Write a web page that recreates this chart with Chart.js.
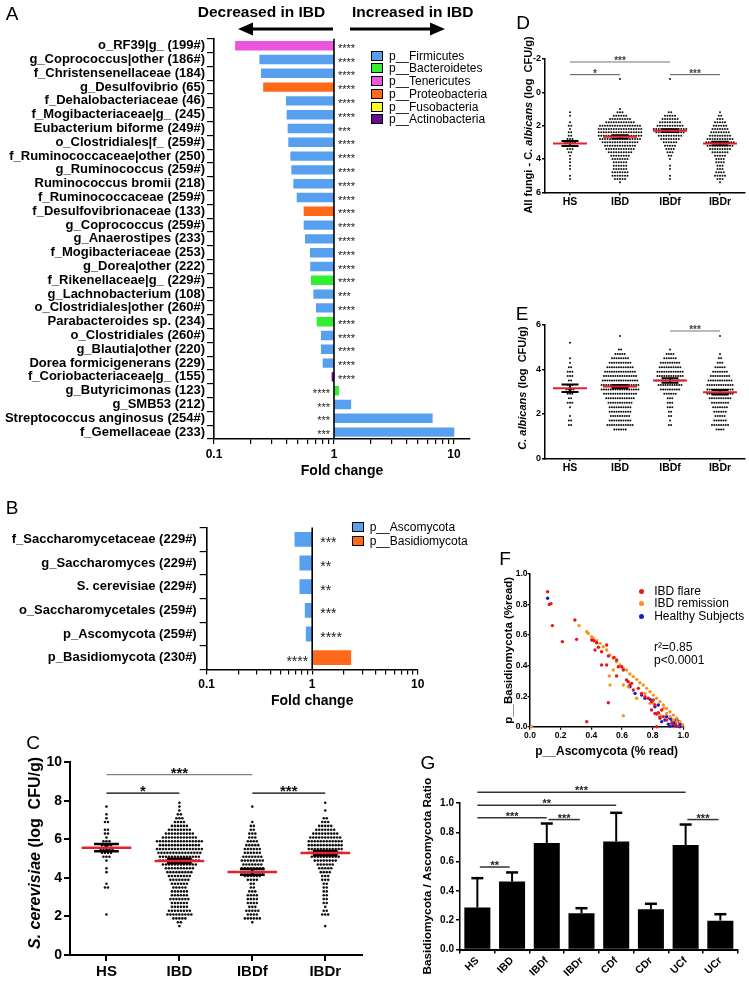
<!DOCTYPE html>
<html>
<head>
<meta charset="utf-8">
<title>Fungal and bacterial changes in IBD</title>
<script src="https://cdn.jsdelivr.net/npm/chart.js@4.4.1/dist/chart.umd.min.js"></script>
<style>
  body { margin: 0; background: #fff; }
  #fig { position: relative; width: 749px; height: 983px; overflow: hidden;
         font-family: Arial, "Liberation Sans", sans-serif; color: #000; }
  #fig canvas { position: absolute; }
  .t { position: absolute; white-space: nowrap; line-height: 1; transform: translate(-50%, -50%); }
  .letter { font-size: 19px; }
  .head { font-size: 15.5px; font-weight: bold; }
  .vt { font-weight: bold; transform: translate(-50%, -50%) rotate(-90deg); }
  .row { position: absolute; white-space: nowrap; line-height: 1; font-size: 12px; transform: translateY(-50%); }
  .sw { display: inline-block; box-sizing: border-box; width: 12px; height: 10px; border: 1px solid #000; vertical-align: -1px; margin-right: 6px; }
  .dot { display: inline-block; width: 5px; height: 5px; border-radius: 50%; vertical-align: 1px; margin-right: 10px; }
</style>
</head>
<body>
<div id="fig">
  <canvas id="chartA" width="480" height="480" style="left:0;top:0"></canvas>
  <canvas id="chartB" width="480" height="220" style="left:0;top:490px"></canvas>
  <canvas id="chartC" width="380" height="253" style="left:0;top:730px"></canvas>
  <canvas id="chartD" width="269" height="215" style="left:480px;top:0"></canvas>
  <canvas id="chartE" width="269" height="180" style="left:480px;top:300px"></canvas>
  <canvas id="chartF" width="269" height="205" style="left:480px;top:555px"></canvas>
  <canvas id="chartG" width="349" height="223" style="left:400px;top:760px"></canvas>

  <div class="t letter" style="left:12px;top:13px">A</div>
  <div class="t letter" style="left:12px;top:507px">B</div>
  <div class="t letter" style="left:33px;top:742px">C</div>
  <div class="t letter" style="left:523px;top:22px">D</div>
  <div class="t letter" style="left:522px;top:313px">E</div>
  <div class="t letter" style="left:505px;top:558px">F</div>
  <div class="t letter" style="left:428px;top:762px">G</div>

  <div class="t head" style="left:261.5px;top:12px">Decreased in IBD</div>
  <div class="t head" style="left:352px;top:12px;transform:translate(0,-50%)">Increased in IBD</div>

  <div class="t vt" style="left:35px;top:853px;font-size:16px"><i>S. cerevisiae</i> (log&nbsp; CFU/g)</div>
  <div class="t vt" style="left:528px;top:125px;font-size:11px">All fungi - C. <i>albicans</i> (log&nbsp; CFU/g)</div>
  <div class="t vt" style="left:521.7px;top:388px;font-size:11px"><i>C. albicans</i> (log&nbsp; CFU/g)</div>

  <div id="legA"></div>
  <div id="legB"></div>
  <div id="legF"></div>
  <div class="row" style="left:654px;top:647px;font-size:12px">r²=0.85</div>
  <div class="row" style="left:654px;top:660px;font-size:12px">p&lt;0.0001</div>
</div>

<script>
  // ---------- data: panel A (bacteria, fold change IBD vs HS) ----------
  const taxaA = [
    'o_RF39|g_ (199#)', 'g_Coprococcus|other (186#)', 'f_Christensenellaceae (184)', 'g_Desulfovibrio (65)',
    'f_Dehalobacteriaceae (46)', 'f_Mogibacteriaceae|g_ (245)', 'Eubacterium biforme (249#)', 'o_Clostridiales|f_ (259#)',
    'f_Ruminococcaceae|other (250)', 'g_Ruminococcus (259#)', 'Ruminococcus bromii (218)', 'f_Ruminococcaceae (259#)',
    'f_Desulfovibrionaceae (133)', 'g_Coprococcus (259#)', 'g_Anaerostipes (233)', 'f_Mogibacteriaceae (253)',
    'g_Dorea|other (222)', 'f_Rikenellaceae|g_ (229#)', 'g_Lachnobacterium (108)', 'o_Clostridiales|other (260#)',
    'Parabacteroides sp. (234)', 'o_Clostridiales (260#)', 'g_Blautia|other (220)', 'Dorea formicigenerans (229)',
    'f_Coriobacteriaceae|g_ (155)', 'g_Butyricimonas (123)', 'g_SMB53 (212)', 'Streptococcus anginosus (254#)',
    'f_Gemellaceae (233)'
  ];
  const foldA = [0.150, 0.239, 0.246, 0.257, 0.398, 0.403, 0.411, 0.416, 0.433, 0.441, 0.458, 0.489, 0.559, 0.559,
    0.573, 0.631, 0.634, 0.643, 0.673, 0.708, 0.718, 0.779, 0.779, 0.805, 0.956, 1.10, 1.39, 6.64, 10.06];
  const phylumA = ['Tenericutes', 'Firmicutes', 'Firmicutes', 'Proteobacteria', 'Firmicutes', 'Firmicutes', 'Firmicutes',
    'Firmicutes', 'Firmicutes', 'Firmicutes', 'Firmicutes', 'Firmicutes', 'Proteobacteria', 'Firmicutes', 'Firmicutes',
    'Firmicutes', 'Firmicutes', 'Bacteroidetes', 'Firmicutes', 'Firmicutes', 'Bacteroidetes', 'Firmicutes', 'Firmicutes',
    'Firmicutes', 'Actinobacteria', 'Bacteroidetes', 'Firmicutes', 'Firmicutes', 'Firmicutes'];
  const starsA = ['****', '****', '****', '****', '****', '****', '***', '****', '****', '****', '****', '****', '****',
    '****', '****', '****', '****', '****', '***', '****', '****', '****', '****', '****', '****', '****', '***', '***', '***'];
  const phylaA = ['Firmicutes', 'Bacteroidetes', 'Tenericutes', 'Proteobacteria', 'Fusobacteria', 'Actinobacteria'];

  // ---------- data: panel B (fungi, fold change) ----------
  const taxaB = ['f_Saccharomycetaceae (229#)', 'g_Saccharomyces (229#)', 'S. cerevisiae (229#)',
    'o_Saccharomycetales (259#)', 'p_Ascomycota (259#)', 'p_Basidiomycota (230#)'];
  const foldB = [0.68, 0.758, 0.758, 0.851, 0.87, 2.34];
  const phylumB = ['Ascomycota', 'Ascomycota', 'Ascomycota', 'Ascomycota', 'Ascomycota', 'Basidiomycota'];
  const starsB = ['***', '**', '**', '***', '****', '****'];
  const phylaB = ['Ascomycota', 'Basidiomycota'];

  // ---------- data: panels C, D, E (dot plots, [value, number of dots]) ----------
  const groups = ['HS', 'IBD', 'IBDf', 'IBDr'];

  const hsC = [[7.7,1],[7.3,1],[7.1,1],[6.9,2],[6.5,2],[6.3,2],[6.1,1],[5.9,3],[5.7,4],[5.5,5],[5.3,4],[5.1,3],
    [4.9,1],[4.5,1],[4.3,1],[3.7,1],[3.5,2],[2.1,1]];
  const ibdC = [[7.9,1],[7.7,1],[7.5,1],[7.3,2],[7.1,3],[6.9,4],[6.7,6],[6.5,8],[6.3,10],[6.1,12],[5.9,16],[5.7,14],
    [5.5,16],[5.3,15],[5.1,14],[4.9,14],[4.7,12],[4.5,10],[4.3,9],[4.1,8],[3.9,7],[3.7,6],[3.5,5],[3.3,6],[3.1,6],
    [2.9,7],[2.7,6],[2.5,6],[2.3,8],[2.1,9],[1.9,5],[1.7,2],[1.5,1]];
  const ibdfC = [[7.7,1],[6.9,1],[6.7,2],[6.5,2],[6.3,3],[6.1,3],[5.9,4],[5.7,5],[5.5,6],[5.3,6],[5.1,7],[4.9,8],
    [4.7,7],[4.5,8],[4.3,8],[4.1,6],[3.9,4],[3.7,2],[3.5,2],[3.3,3],[3.1,4],[2.9,4],[2.7,4],[2.5,3],[2.3,5],[2.1,4],
    [1.9,6],[1.7,1]];
  const ibdrC = [[7.9,1],[7.5,1],[7.1,2],[6.9,3],[6.7,5],[6.5,7],[6.3,9],[6.1,11],[5.9,12],[5.7,12],[5.5,12],[5.3,12],
    [5.1,10],[4.9,8],[4.7,6],[4.5,5],[4.3,4],[4.1,3],[3.9,3],[3.7,2],[3.5,2],[3.3,2],[3.1,2],[2.9,2],[2.7,2],[2.5,1],
    [2.3,2],[2.1,3],[1.5,1]];
  const meansC = [5.57, 4.88, 4.31, 5.29];
  const semsC = [0.19, 0.11, 0.15, 0.11];
  const sigC = [[0, 2, 9.36, '***'], [0, 1, 8.4, '*'], [2, 3, 8.4, '***']];

  const hsD = [[1.2,1],[1.4,1],[1.8,1],[2.0,2],[2.2,1],[2.4,2],[2.6,2],[2.8,3],[3.0,5],[3.2,4],[3.4,3],[3.6,2],
    [3.8,1],[4.0,1],[4.2,1],[4.4,1],[4.6,1],[5.0,1],[5.2,1]];
  const ibdD = [[-0.8,1],[1.0,1],[1.2,3],[1.4,6],[1.6,9],[1.8,12],[2.0,17],[2.2,18],[2.4,18],[2.6,18],[2.8,17],
    [3.0,15],[3.2,13],[3.4,12],[3.6,10],[3.8,8],[4.0,7],[4.2,6],[4.4,6],[4.6,6],[4.8,7],[5.0,7],[5.2,5],[5.4,1]];
  const ibdfD = [[-0.8,1],[1.2,2],[1.4,5],[1.6,7],[1.8,9],[2.0,11],[2.2,14],[2.4,12],[2.6,10],[2.8,8],[3.0,6],
    [3.2,5],[3.4,4],[3.6,3],[3.8,2],[4.0,1],[4.4,1],[4.6,1],[5.0,1],[5.2,1]];
  const ibdrD = [[1.2,1],[1.4,2],[1.6,3],[1.8,5],[2.0,6],[2.2,7],[2.4,8],[2.6,9],[2.8,11],[3.0,12],[3.2,11],
    [3.4,9],[3.6,7],[3.8,5],[4.0,4],[4.2,4],[4.4,3],[4.6,3],[4.8,4],[5.0,5],[5.2,3],[5.4,1]];
  const meansD = [3.07, 2.67, 2.3, 3.07];
  const semsD = [0.15, 0.1, 0.08, 0.1];
  const sigD = [[0, 2, -1.82, '***'], [0, 1, -1.06, '*'], [2, 3, -1.06, '***']];

  const hsE = [[5.2,1],[4.5,1],[4.3,1],[4.1,2],[3.9,3],[3.7,3],[3.5,2],[3.3,3],[3.1,4],[2.9,3],[2.7,2],[2.5,3],
    [2.3,1],[1.9,1],[1.7,2],[1.5,2]];
  const ibdE = [[5.5,1],[4.9,2],[4.7,5],[4.5,8],[4.3,10],[4.1,12],[3.9,14],[3.7,15],[3.5,16],[3.3,17],[3.1,17],
    [2.9,15],[2.7,13],[2.5,11],[2.3,10],[2.1,10],[1.9,9],[1.7,10],[1.5,12],[1.3,6]];
  const ibdfE = [[4.9,1],[4.7,4],[4.5,6],[4.3,9],[4.1,10],[3.9,12],[3.7,12],[3.5,13],[3.3,11],[3.1,9],[2.9,6],
    [2.7,3],[2.5,3],[2.3,3],[2.1,2],[1.9,2],[1.7,1],[1.5,2]];
  const ibdrE = [[5.5,1],[4.7,1],[4.5,2],[4.3,3],[4.1,5],[3.9,7],[3.7,9],[3.5,11],[3.3,12],[3.1,12],[2.9,12],
    [2.7,10],[2.5,8],[2.3,7],[2.1,6],[1.9,5],[1.7,6],[1.5,8],[1.3,4]];
  const meansE = [3.15, 3.23, 3.5, 2.97];
  const semsE = [0.17, 0.07, 0.1, 0.1];
  const sigE = [[2, 3, 5.73, '***']];

  // ---------- data: panel F (Ascomycota vs Basidiomycota, fraction of reads) ----------
  const flareF = [[0.115,0.884],[0.126,0.801],[0.137,0.806],[0.146,0.662],[0.211,0.557],[0.293,0.699],[0.304,0.572],
    [0.402,0.568],[0.417,0.563],[0.435,0.55],[0.424,0.502],[0.446,0.52],[0.467,0.491],[0.5,0.535],[0.511,0.463],
    [0.467,0.404],[0.5,0.404],[0.511,0.157],[0.37,0.033],[0.548,0.454],[0.565,0.437],[0.576,0.393],[0.565,0.332],
    [0.598,0.393],[0.609,0.371],[0.63,0.306],[0.641,0.295],[0.652,0.273],[0.663,0.284],[0.674,0.24],[0.707,0.251],
    [0.728,0.218],[0.75,0.197],[0.772,0.186],[0.793,0.164],[0.804,0.175],[0.815,0.142],[0.793,0.109],[0.815,0.087],
    [0.826,0.083],[0.837,0.092],[0.859,0.109],[0.848,0.055],[0.87,0.066],[0.891,0.044],[0.924,0.022],[0.946,0.011],
    [0.967,0.004],[0.826,0.0]];
  const remissionF = [[0.32,0.662],[0.37,0.622],[0.38,0.611],[0.402,0.59],[0.413,0.579],[0.435,0.563],[0.457,0.546],
    [0.478,0.524],[0.5,0.502],[0.522,0.469],[0.543,0.448],[0.565,0.426],[0.587,0.404],[0.609,0.382],[0.63,0.371],
    [0.652,0.345],[0.674,0.328],[0.696,0.31],[0.717,0.288],[0.739,0.273],[0.761,0.251],[0.783,0.229],[0.804,0.207],
    [0.826,0.186],[0.848,0.164],[0.87,0.142],[0.891,0.12],[0.913,0.098],[0.935,0.076],[0.957,0.055],[0.978,0.033],
    [0.996,0.011],[0.517,0.332],[0.609,0.273],[0.641,0.262],[0.696,0.186],[0.75,0.218],[0.783,0.153],[0.87,0.12],
    [0.913,0.066],[0.957,0.033],[0.848,0.076],[0.609,0.072],[0.011,0.0],[0.543,0.371],[0.522,0.273],[0.804,0.153],
    [0.891,0.087],[0.935,0.044]];
  const healthyF = [[0.115,0.841],[0.652,0.262],[0.685,0.218],[0.728,0.207],[0.75,0.186],[0.783,0.179],[0.815,0.131],
    [0.837,0.142],[0.848,0.066],[0.859,0.033],[0.891,0.066],[0.913,0.055],[0.924,0.044],[0.935,0.033],[0.946,0.022],
    [0.957,0.048],[0.967,0.033],[0.978,0.017],[0.989,0.011],[0.935,0.011],[0.957,0.004],[0.913,0.004],[0.946,0.039],
    [0.978,0.0],[0.902,0.017],[0.88,0.044]];
  const seriesF = ['IBD flare', 'IBD remission', 'Healthy Subjects'];

  // ---------- data: panel G (Basidiomycota / Ascomycota ratio, mean + SEM) ----------
  const catsG = ['HS', 'IBD', 'IBDf', 'IBDr', 'CDf', 'CDr', 'UCf', 'UCr'];
  const ratioG = [0.286, 0.464, 0.727, 0.248, 0.738, 0.275, 0.713, 0.197];
  const errTopG = [0.487, 0.526, 0.86, 0.282, 0.933, 0.312, 0.853, 0.241];
  const sigG = [[0, 6, 1.074, '***'], [0, 4, 0.985, '**'], [0, 2, 0.899, '***'], [2.05, 2.95, 0.887, '***'],
    [6.05, 6.95, 0.887, '***'], [0.07, 0.93, 0.563, '**']];

  // ---------- styles ----------
  const phylumColors = {
    Firmicutes: '#57A0F0', Bacteroidetes: '#33EE33', Tenericutes: '#EE55DD', Proteobacteria: '#FF6A1A',
    Fusobacteria: '#FFFF22', Actinobacteria: '#6A0A99', Ascomycota: '#57A0F0', Basidiomycota: '#FF6A1A'
  };
  const colorsF = ['#E8161B', '#F7941E', '#1A1ACC'];
  const MEAN_RED = '#E8202A';

  Chart.defaults.font.family = 'Arial, "Liberation Sans", sans-serif';
  Chart.defaults.color = '#000';
  Chart.defaults.animation = false;
  Chart.defaults.responsive = false;
  Chart.defaults.devicePixelRatio = 1;
  Chart.defaults.plugins.legend.display = false;
  Chart.defaults.plugins.tooltip.enabled = false;

  const bold = size => ({ size, weight: 'bold' });
  const fixW = w => s => { s.width = w; };
  const fixH = h => s => { s.height = h; };

  function logTicks(scale) {
    const t = [];
    [0.1, 1].forEach(d => { for (let k = 1; k <= 9; k++) t.push({ value: +(k * d).toFixed(1) }); });
    t.push({ value: 10 });
    scale.ticks = t.filter(o => o.value <= scale.max + 1e-9);
  }
  const logLabel = v => ([0.1, 1, 10].includes(v) ? String(v) : '');

  function swarm(bins, gi, gap) {
    const pts = [];
    bins.forEach(([v, n]) => {
      for (let k = 0; k < n; k++) pts.push({ x: gi + (k - (n - 1) / 2) * gap, y: v });
    });
    return pts;
  }

  function drawSig(ctx, x, y, list, st) {
    list.forEach(([a, b, lvl, txt], k) => {
      const py = y.getPixelForValue(lvl);
      const x0 = x.getPixelForValue(a), x1 = x.getPixelForValue(b);
      ctx.strokeStyle = st.lineColors[k] || st.lineColors[st.lineColors.length - 1];
      ctx.lineWidth = st.lineWidth;
      ctx.beginPath(); ctx.moveTo(x0, py); ctx.lineTo(x1, py); ctx.stroke();
      ctx.font = st.starFont; ctx.fillStyle = st.starColor;
      ctx.textAlign = 'center'; ctx.textBaseline = 'alphabetic';
      ctx.fillText(txt, (x0 + x1) / 2, py + st.starDy);
    });
  }

  // vertical line at fold change 1 + significance stars beside each bar
  function foldPlugin(fold, stars, st) {
    return {
      id: 'foldLine',
      afterDatasetsDraw(chart) {
        const { ctx, chartArea, scales: { x, y } } = chart;
        const x1 = x.getPixelForValue(1);
        ctx.save();
        ctx.strokeStyle = '#000'; ctx.lineWidth = 1.6;
        ctx.beginPath(); ctx.moveTo(x1, chartArea.top); ctx.lineTo(x1, chartArea.bottom); ctx.stroke();
        ctx.font = st.font; ctx.fillStyle = '#222'; ctx.textBaseline = 'alphabetic';
        fold.forEach((v, i) => {
          const py = y.getPixelForValue(i) + st.dy;
          if (v < 1) { ctx.textAlign = 'left'; ctx.fillText(stars[i], x1 + st.gapR, py); }
          else { ctx.textAlign = 'right'; ctx.fillText(stars[i], x1 - st.gapL, py); }
        });
        if (st.arrows) {
          const ay = 29;
          ctx.lineWidth = 3.2; ctx.fillStyle = '#000';
          const arrow = (from, to) => {
            const dir = Math.sign(to - from);
            ctx.beginPath(); ctx.moveTo(from, ay); ctx.lineTo(to - dir * 10, ay); ctx.stroke();
            ctx.beginPath(); ctx.moveTo(to, ay); ctx.lineTo(to - dir * 15, ay - 6.5); ctx.lineTo(to - dir * 15, ay + 6.5);
            ctx.closePath(); ctx.fill();
          };
          arrow(x1 - 1, x1 - 96);
          arrow(x1 + 16, x1 + 111);
        }
        ctx.restore();
      }
    };
  }

  function meanSemPlugin(means, sems, sig, st) {
    return {
      id: 'meanSem',
      afterDatasetsDraw(chart) {
        const { ctx, scales: { x, y } } = chart;
        ctx.save();
        means.forEach((m, i) => {
          const cx = x.getPixelForValue(i);
          const sw = x.getPixelForValue(i + st.semHalf) - cx;
          const mw = x.getPixelForValue(i + st.meanHalf) - cx;
          const lo = y.getPixelForValue(m - sems[i]), hi = y.getPixelForValue(m + sems[i]);
          ctx.strokeStyle = '#000'; ctx.lineWidth = st.semWidth;
          ctx.beginPath();
          ctx.moveTo(cx - sw, lo); ctx.lineTo(cx + sw, lo);
          ctx.moveTo(cx - sw, hi); ctx.lineTo(cx + sw, hi);
          ctx.moveTo(cx, lo); ctx.lineTo(cx, hi);
          ctx.stroke();
          const my = y.getPixelForValue(m);
          ctx.strokeStyle = MEAN_RED; ctx.lineWidth = st.meanWidth;
          ctx.beginPath(); ctx.moveTo(cx - mw, my); ctx.lineTo(cx + mw, my); ctx.stroke();
        });
        drawSig(ctx, x, y, sig, st);
        ctx.restore();
      }
    };
  }

  function errorPlugin(vals, tops, sig, st) {
    return {
      id: 'errG',
      afterDatasetsDraw(chart) {
        const { ctx, scales: { x, y } } = chart;
        ctx.save();
        ctx.strokeStyle = '#000';
        vals.forEach((v, i) => {
          const cx = x.getPixelForValue(i), y0 = y.getPixelForValue(v), y1 = y.getPixelForValue(tops[i]);
          ctx.lineWidth = 2;
          ctx.beginPath(); ctx.moveTo(cx, y0); ctx.lineTo(cx, y1); ctx.stroke();
          ctx.lineWidth = 2.5;
          ctx.beginPath(); ctx.moveTo(cx - 6, y1); ctx.lineTo(cx + 6, y1); ctx.stroke();
        });
        drawSig(ctx, x, y, sig, st);
        ctx.restore();
      }
    };
  }

  const axisLine = (w) => ({ color: '#000', width: w });
  const tickGrid = (len, w) => ({ drawOnChartArea: false, drawTicks: true, tickLength: len, color: '#000', lineWidth: w });

  // ---------- A ----------
  new Chart(document.getElementById('chartA'), {
    type: 'bar',
    data: {
      labels: taxaA,
      datasets: [{
        data: foldA.map(v => [v, 1]),
        backgroundColor: phylumA.map(p => phylumColors[p]),
        barPercentage: 0.68, categoryPercentage: 1
      }]
    },
    options: {
      indexAxis: 'y',
      layout: { padding: { top: 38.8, right: 10, bottom: 0, left: 0 } },
      scales: {
        x: {
          type: 'logarithmic', min: 0.1, max: 13.6,
          afterBuildTicks: logTicks, afterFit: fixH(41),
          ticks: { callback: logLabel, autoSkip: false, maxRotation: 0, font: bold(12), padding: 3 },
          grid: tickGrid(5, 1.2), border: axisLine(1.6),
          title: { display: true, text: 'Fold change', font: bold(14), padding: { top: 0, bottom: 0 } }
        },
        y: {
          afterFit: fixW(214),
          ticks: { autoSkip: false, font: bold(13), padding: 2 },
          grid: tickGrid(7, 1.2), border: axisLine(1.6)
        }
      }
    },
    plugins: [foldPlugin(foldA, starsA, { font: '11px Arial, "Liberation Sans", sans-serif', dy: 6, gapR: 4, gapL: 4, arrows: true })]
  });

  // ---------- B ----------
  new Chart(document.getElementById('chartB'), {
    type: 'bar',
    data: {
      labels: taxaB,
      datasets: [{
        data: foldB.map(v => [v, 1]),
        backgroundColor: phylumB.map(p => phylumColors[p]),
        barPercentage: 0.63, categoryPercentage: 1
      }]
    },
    options: {
      indexAxis: 'y',
      layout: { padding: { top: 37.5, right: 62.3, bottom: 0, left: 0 } },
      scales: {
        x: {
          type: 'logarithmic', min: 0.1, max: 10,
          afterBuildTicks: logTicks, afterFit: fixH(40.5),
          ticks: { callback: logLabel, autoSkip: false, maxRotation: 0, font: bold(12), padding: 3 },
          grid: tickGrid(5, 1.2), border: axisLine(1.6),
          title: { display: true, text: 'Fold change', font: bold(14), padding: { top: 0, bottom: 0 } }
        },
        y: {
          afterFit: fixW(206.7),
          ticks: { autoSkip: false, font: bold(13), padding: 3 },
          grid: tickGrid(7, 1.2), border: axisLine(1.6)
        }
      }
    },
    plugins: [foldPlugin(foldB, starsB, { font: '14px Arial, "Liberation Sans", sans-serif', dy: 8, gapR: 8, gapL: 4, arrows: false })]
  });

  // ---------- dot plots C, D, E ----------
  function dotChart(id, bins, gap, radius, yOpts, frame, fonts, means, sems, sig, st) {
    const pts = [];
    bins.forEach((b, gi) => pts.push(...swarm(b, gi, gap)));
    new Chart(document.getElementById(id), {
      type: 'scatter',
      data: { datasets: [{ data: pts, pointRadius: radius, pointBorderWidth: 0, backgroundColor: '#111', clip: false }] },
      options: {
        layout: { padding: { top: frame.top, right: frame.right, bottom: 0, left: 0 } },
        scales: {
          x: {
            type: 'linear', min: -0.5, max: 3.5,
            afterBuildTicks: s => { s.ticks = groups.map((_, i) => ({ value: i })); },
            afterFit: fixH(frame.xh),
            ticks: { callback: (v, i) => groups[i], autoSkip: false, maxRotation: 0, font: bold(fonts.x), padding: fonts.xpad },
            grid: tickGrid(fonts.tick, frame.lw), border: axisLine(frame.lw)
          },
          y: Object.assign({
            afterFit: fixW(frame.yw),
            ticks: { stepSize: 2, font: bold(fonts.y), padding: fonts.ypad },
            grid: tickGrid(fonts.tick, frame.lw), border: axisLine(frame.lw)
          }, yOpts)
        }
      },
      plugins: [meanSemPlugin(means, sems, sig, st)]
    });
  }

  dotChart('chartC', [hsC, ibdC, ibdfC, ibdrC], 0.041, 1.3, { min: 0, max: 10 },
    { top: 32.3, right: 18.3, xh: 28, yw: 70, lw: 2 }, { x: 15, y: 14, tick: 6, xpad: 2, ypad: 2 },
    meansC, semsC, sigC,
    { semHalf: 0.17, meanHalf: 0.34, semWidth: 2.5, meanWidth: 2.5, lineColors: ['#808080', '#000'], lineWidth: 1.3,
      starFont: 'bold 15px Arial, "Liberation Sans", sans-serif', starColor: '#111', starDy: 3.3 });

  dotChart('chartD', [hsD, ibdD, ibdfD, ibdrD], 0.05, 1.0, { min: -2, max: 6, reverse: true },
    { top: 59, right: 4, xh: 22.7, yw: 65, lw: 1.5 }, { x: 10.5, y: 9, tick: 3, xpad: 1, ypad: 1 },
    meansD, semsD, sigD,
    { semHalf: 0.17, meanHalf: 0.34, semWidth: 2, meanWidth: 2, lineColors: ['#777', '#555'], lineWidth: 1,
      starFont: 'bold 10px Arial, "Liberation Sans", sans-serif', starColor: '#444', starDy: 2 });

  dotChart('chartE', [hsE, ibdE, ibdfE, ibdrE], 0.046, 1.0, { min: 0, max: 6 },
    { top: 25, right: 4, xh: 21.7, yw: 65, lw: 1.5 }, { x: 10.5, y: 9, tick: 3, xpad: 1, ypad: 1 },
    meansE, semsE, sigE,
    { semHalf: 0.17, meanHalf: 0.34, semWidth: 2, meanWidth: 2, lineColors: ['#777'], lineWidth: 1,
      starFont: 'bold 10px Arial, "Liberation Sans", sans-serif', starColor: '#444', starDy: 2 });

  // ---------- F ----------
  new Chart(document.getElementById('chartF'), {
    type: 'scatter',
    data: {
      datasets: [flareF, remissionF, healthyF].map((arr, k) => ({
        label: seriesF[k],
        data: arr.map(([x, y]) => ({ x, y })),
        pointRadius: 1.7, pointBorderWidth: 0, backgroundColor: colorsF[k], clip: false
      }))
    },
    options: {
      layout: { padding: { top: 19, right: 65.7, bottom: 0, left: 0 } },
      scales: {
        x: {
          min: 0, max: 1, afterFit: fixH(33.3),
          ticks: { stepSize: 0.2, callback: v => v.toFixed(1), font: bold(8.5), padding: 1, maxRotation: 0 },
          grid: tickGrid(3, 1.2), border: axisLine(1.5),
          title: { display: true, text: 'p__Ascomycota (% read)', font: bold(12), padding: { top: 0, bottom: 1 } }
        },
        y: {
          min: 0, max: 1, afterFit: fixW(50),
          ticks: { stepSize: 0.2, callback: v => v.toFixed(1), font: bold(8.5), padding: 0 },
          grid: tickGrid(2.5, 1.2), border: axisLine(1.5),
          title: { display: true, text: 'p__Basidiomycota (%read)', font: bold(11.5), padding: { top: 22, bottom: 0 } }
        }
      }
    }
  });

  // ---------- G ----------
  new Chart(document.getElementById('chartG'), {
    type: 'bar',
    data: {
      labels: catsG,
      datasets: [{ data: ratioG, backgroundColor: '#000', barPercentage: 0.75, categoryPercentage: 1 }]
    },
    options: {
      layout: { padding: { top: 43, right: 11.3, bottom: 0, left: 0 } },
      scales: {
        x: {
          afterFit: fixH(33.5),
          ticks: { autoSkip: false, minRotation: 45, maxRotation: 45, font: bold(10.5), padding: 1 },
          grid: tickGrid(4, 1.5), border: axisLine(2)
        },
        y: {
          min: 0, max: 1, afterFit: fixW(60),
          ticks: { stepSize: 0.2, callback: v => v.toFixed(1), font: bold(10), padding: 2 },
          grid: tickGrid(4, 1.5), border: axisLine(1.5),
          title: { display: true, text: 'Basidiomycota / Ascomycota Ratio', font: bold(11.8), padding: { top: 21, bottom: 0 } }
        }
      }
    },
    plugins: [errorPlugin(ratioG, errTopG, sigG,
      { lineColors: ['#333'], lineWidth: 1.5, starFont: 'bold 11px Arial, "Liberation Sans", sans-serif', starColor: '#222', starDy: 2 })]
  });

  // ---------- HTML legends ----------
  function legendRows(el, items, left, top, step, marker) {
    items.forEach((txt, i) => {
      const row = document.createElement('div');
      row.className = 'row';
      row.style.left = left + 'px';
      row.style.top = (top + i * step) + 'px';
      row.innerHTML = marker(i) + txt;
      el.appendChild(row);
    });
  }
  legendRows(document.getElementById('legA'), phylaA.map(p => 'p__' + p), 371, 55.5, 12.75,
    i => `<span class="sw" style="background:${phylumColors[phylaA[i]]}"></span>`);
  legendRows(document.getElementById('legB'), phylaB.map(p => 'p__' + p), 351.7, 527.3, 13.4,
    i => `<span class="sw" style="background:${phylumColors[phylaB[i]]}"></span>`);
  legendRows(document.getElementById('legF'), seriesF, 639.2, 590.7, 12.65,
    i => `<span class="dot" style="background:${colorsF[i]}"></span>`);
</script>
</body>
</html>
